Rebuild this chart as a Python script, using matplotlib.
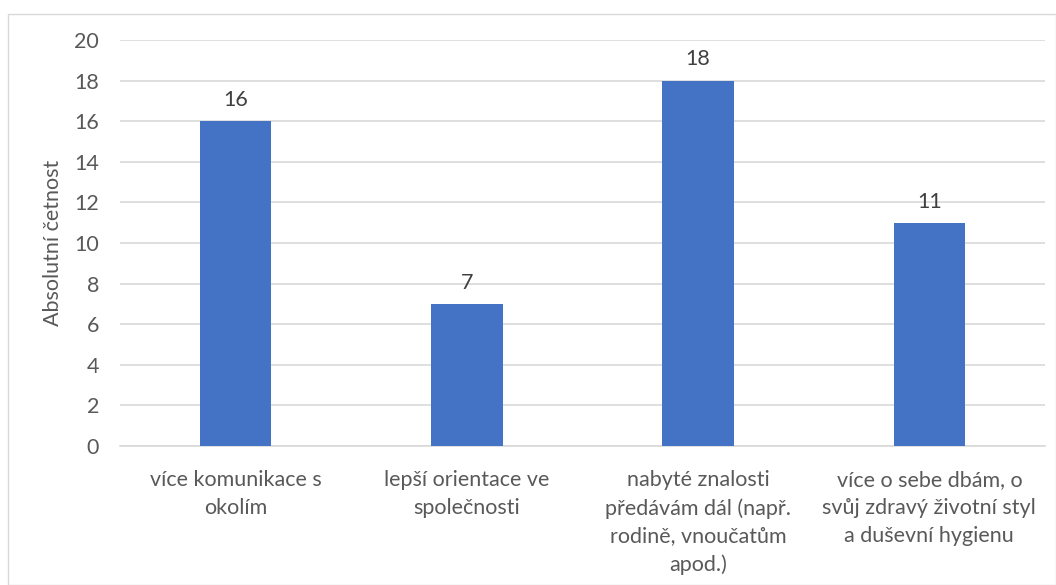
import matplotlib.pyplot as plt
from matplotlib.patches import Rectangle

categories = [
    "více komunikace s\nokolím",
    "lepší orientace ve\nspolečnosti",
    "nabyté znalosti\npředávám dál (např.\nrodině, vnoučatům\napod.)",
    "více o sebe dbám, o\nsvůj zdravý životní styl\na duševní hygienu",
]
values = [16, 7, 18, 11]
yticks = [0, 2, 4, 6, 8, 10, 12, 14, 16, 18, 20]

plt.rcParams["font.family"] = ["Lato", "DejaVu Sans"]
text_color = "#595959"
fs = 15.5

fig = plt.figure(figsize=(10.56, 5.85), dpi=100)
# chart border like in Excel
fig.patches.append(Rectangle((8 / 1056, 0), 1 - 8 / 1056, 1 - 14 / 585,
                             transform=fig.transFigure, fill=False,
                             edgecolor="#D9D9D9", linewidth=1))

ax = fig.add_axes([120 / 1056, 1 - 446 / 585, 925 / 1056, 406 / 585])
x = range(len(categories))
bars = ax.bar(x, values, width=0.31, color="#4472C4", zorder=3)
for b, v in zip(bars, values):
    ax.text(b.get_x() + b.get_width() / 2, v + 0.55, str(v), ha="center",
            va="bottom", fontsize=fs, color="#404040")

ax.set_xlim(-0.5, len(categories) - 0.5)
ax.set_ylim(0, 20)
ax.set_yticks(yticks)
ax.yaxis.grid(True, color="#D9D9D9", linewidth=1.2, zorder=0)
ax.tick_params(axis="both", length=0, labelsize=fs, labelcolor=text_color)
ax.tick_params(axis="y", pad=15)
ax.tick_params(axis="x", pad=17)
ax.set_xticks(list(x))
ax.set_xticklabels(categories, linespacing=1.5)
for s in ["top", "right", "left"]:
    ax.spines[s].set_visible(False)
ax.spines["bottom"].set_color("#D9D9D9")
ax.spines["bottom"].set_linewidth(1.2)
ax.set_ylabel("Absolutní četnost", fontsize=fs, color=text_color, labelpad=8)

fig.savefig("out.png", dpi=100)
